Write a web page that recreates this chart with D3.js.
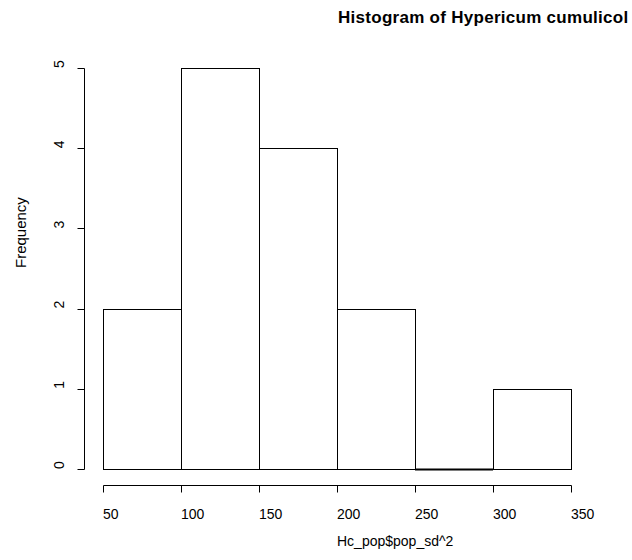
<!DOCTYPE html>
<html><head><meta charset="utf-8">
<script src="https://cdn.jsdelivr.net/npm/d3@7"></script>
<style>body{margin:0;background:#fff}svg{display:block}text{font-family:"Liberation Sans",Arial,sans-serif}</style>
</head><body>
<svg id="c" width="632" height="560"></svg>
<script>
const binStarts = [50, 100, 150, 200, 250, 300];
const binWidth = 50;
const counts = [2, 5, 4, 2, 0, 1];
const xTicks = [50, 100, 150, 200, 250, 300, 350];
const yTicks = [0, 1, 2, 3, 4, 5];
const title = "Histogram of Hypericum cumulicol";
const xLabel = "Hc_pop$pop_sd^2";
const yLabel = "Frequency";

const svg = d3.select("#c");
const x = d3.scaleLinear().domain([50, 350]).range([103, 571]);
const y = d3.scaleLinear().domain([0, 5]).range([469, 68]);
const axisY = 485.5, axisX = 84.5;

svg.append("g").selectAll("rect").data(binStarts).join("rect")
  .attr("x", d => Math.round(x(d)) + 0.5)
  .attr("y", (d, i) => Math.round(y(counts[i])) + 0.5)
  .attr("width", d => Math.round(x(d + binWidth)) - Math.round(x(d)))
  .attr("height", (d, i) => Math.max(Math.round(y(0)) - Math.round(y(counts[i])), 0.01))
  .attr("fill", "none").attr("stroke", "#000").attr("stroke-width", 1);
binStarts.forEach((d, i) => {
  if (counts[i] === 0) {
    svg.append("line").attr("x1", Math.round(x(d))).attr("x2", Math.round(x(d + binWidth)))
      .attr("y1", Math.round(y(0)) + 0.5).attr("y2", Math.round(y(0)) + 0.5)
      .attr("stroke", "#000").attr("stroke-width", 2);
  }
});

const gx = svg.append("g");
gx.append("line").attr("x1", Math.round(x(50)) + 0.5).attr("x2", Math.round(x(350)) + 0.5)
  .attr("y1", axisY).attr("y2", axisY).attr("stroke", "#000");
gx.selectAll("line.t").data(xTicks).join("line").attr("class", "t")
  .attr("x1", d => Math.round(x(d)) + 0.5).attr("x2", d => Math.round(x(d)) + 0.5)
  .attr("y1", axisY).attr("y2", axisY + 7).attr("stroke", "#000");
gx.selectAll("text").data(xTicks).join("text")
  .attr("x", d => x(d)).attr("y", 519).attr("text-anchor", "start")
  .attr("font-size", 14).text(d => d);

const gy = svg.append("g");
gy.append("line").attr("y1", Math.round(y(0)) + 0.5).attr("y2", Math.round(y(5)) + 0.5)
  .attr("x1", axisX).attr("x2", axisX).attr("stroke", "#000");
gy.selectAll("line.t").data(yTicks).join("line").attr("class", "t")
  .attr("y1", d => Math.round(y(d)) + 0.5).attr("y2", d => Math.round(y(d)) + 0.5)
  .attr("x1", axisX).attr("x2", axisX - 7).attr("stroke", "#000");
gy.selectAll("text").data(yTicks).join("text")
  .attr("transform", d => `translate(64,${y(d)}) rotate(-90)`)
  .attr("text-anchor", "start").attr("font-size", 14).text(d => d);

svg.append("text").attr("x", 338).attr("y", 23).attr("font-size", 17)
  .attr("letter-spacing", 0.28).attr("font-weight", "bold").text(title);
svg.append("text").attr("x", 337).attr("y", 546).attr("text-anchor", "start")
  .attr("font-size", 14).text(xLabel);
svg.append("text").attr("transform", "translate(26,268) rotate(-90)")
  .attr("text-anchor", "start").attr("font-size", 15).text(yLabel);
</script>
</body></html>
